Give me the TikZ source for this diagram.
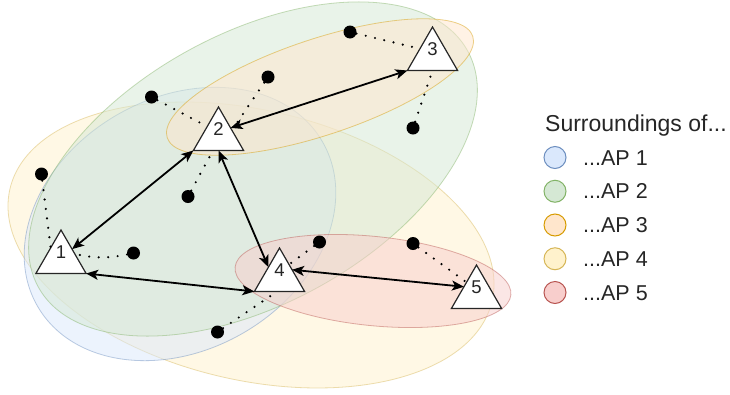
\documentclass[tikz,border=0pt]{standalone}
\usepackage{fontspec}
\setmainfont{Liberation Sans}
\usetikzlibrary{shapes.geometric,calc,arrows.meta}
\definecolor{bluef}{HTML}{DAE8FC}\definecolor{bluel}{HTML}{6C8EBF}
\definecolor{greenf}{HTML}{D5E8D4}\definecolor{greenl}{HTML}{82B366}
\definecolor{orangef}{HTML}{FFE6CC}\definecolor{orangel}{HTML}{D79B00}
\definecolor{yellowf}{HTML}{FFF2CC}\definecolor{yellowl}{HTML}{D6B656}
\definecolor{redf}{HTML}{F8CECC}\definecolor{redl}{HTML}{B85450}
\pgfdeclarelayer{bg}
\pgfsetlayers{bg,main}
\begin{document}
\begin{tikzpicture}[x=1pt,y=-1pt,
  zone/.style={fill opacity=0.5, draw opacity=0.45, line width=0.8pt},
  ap/.style={regular polygon, regular polygon sides=3, minimum size=58pt, inner sep=0pt, outer sep=0pt, draw=black!85, fill=white, line width=1.2pt},
  apnum/.style={font=\fontsize{18.5}{18}\selectfont, text=black!85, yshift=7pt, inner sep=0pt},
  dotnode/.style={circle, fill=black, minimum size=13pt, inner sep=0pt},
  dotline/.style={line width=2.4pt, dash pattern=on 0pt off 9.5pt, line cap=round},
  conn/.style={line width=1.8pt, <->, >={Stealth[length=12pt,width=10pt,inset=3pt]}},
  legc/.style={circle, minimum size=22pt, inner sep=0pt, line width=1pt},
  legt/.style={anchor=base west, inner sep=0pt, font=\fontsize{21.5}{24}\selectfont, text=black!85},
]
\useasboundingbox (0,0) rectangle (730,394);

% access points
\node[ap, label={[apnum]center:1}] (t1) at (61,259) {};
\node[ap, label={[apnum]center:2}] (t2) at (218.5,136) {};
\node[ap, label={[apnum]center:3}] (t3) at (432.5,56) {};
\node[ap, label={[apnum]center:4}] (t4) at (279.5,277) {};
\node[ap, label={[apnum]center:5}] (t5) at (476.5,294) {};

% surroundings
\begin{pgfonlayer}{bg}
\fill[white] (0,0) rectangle (730,394);
\draw[zone, fill=yellowf, draw=yellowl, rotate around={-13.1:(251,245)}] (251,245) ellipse [x radius=247.5pt, y radius=135pt];
\draw[zone, fill=bluef, draw=bluel, rotate around={30:(180,224)}] (180,224) ellipse [x radius=164.5pt, y radius=126pt];
\draw[zone, fill=greenf, draw=greenl, rotate around={28.8:(253,169)}] (253,169) ellipse [x radius=245pt, y radius=135pt];
\draw[zone, fill=orangef, draw=orangel, rotate around={18.4:(320,87)}] (320,87) ellipse [x radius=161pt, y radius=48pt];
\draw[zone, fill=redf, draw=redl, rotate around={-5.8:(373,281)}] (373,281) ellipse [x radius=138.6pt, y radius=44.6pt];
\end{pgfonlayer}

% stations
\node[dotnode] (d1) at (350,32) {};
\node[dotnode] (d2) at (413,128) {};
\node[dotnode] (d3) at (268,77) {};
\node[dotnode] (d4) at (151.5,97) {};
\node[dotnode] (d5) at (188,196.5) {};
\node[dotnode] (d6) at (41.5,174) {};
\node[dotnode] (d7) at (133.5,253) {};
\node[dotnode] (d8) at (319.5,242) {};
\node[dotnode] (d9) at (217.5,332) {};
\node[dotnode] (d10) at (413,243.5) {};

\draw[dotline] (d1) -- (t3.side 1);
\draw[dotline] (d2) -- (t3.side 2);
\draw[dotline] (d3) -- ($(t2.side 3)+(6,-6)$);
\draw[dotline] (d4) -- ($(t2.corner 1)!0.45!(t2.corner 2)$);
\draw[dotline] (d5) -- ($(t2.corner 2)!0.39!(t2.corner 3)$);
\draw[dotline] (d6) -- ($(t1.corner 1)!0.41!(t1.corner 2)$);
\draw[dotline] (d7) to[bend left=12] ($(t1.corner 1)!0.55!(t1.corner 3)$);
\draw[dotline] (d8) -- ($(t4.corner 1)!0.38!(t4.corner 3)$);
\draw[dotline] (d9) -- ($(t4.corner 2)!0.45!(t4.corner 3)$);
\draw[dotline] (d10) -- ($(t5.corner 1)!0.33!(t5.corner 2)+(-3,2)$);

% links
\draw[conn] ($(t1.corner 1)!0.44!(t1.corner 3)$) -- (t2.corner 2);
\draw[conn] ($(t2.corner 1)!0.48!(t2.corner 3)$) -- (t3.corner 2);
\draw[conn] (t2.side 2) -- ($(t4.corner 1)!0.44!(t4.corner 2)$);
\draw[conn] (t1.corner 3) -- (t4.corner 2);
\draw[conn] (t4.side 3) -- (t5.side 1);

% legend
\node[anchor=base west, inner sep=0pt, font=\fontsize{23}{27}\selectfont, text=black!85] (hd) at (545,131) {Surroundings of...};
\node[legc, fill=bluef, draw=bluel] (l1) at (555,157.5) {};
\node[legc, fill=greenf, draw=greenl] (l2) at (555,191.25) {};
\node[legc, fill=orangef, draw=orangel] (l3) at (555,225) {};
\node[legc, fill=yellowf, draw=yellowl] (l4) at (555,258.75) {};
\node[legc, fill=redf, draw=redl] (l5) at (555,292.5) {};
\node[legt] (lt1) at ($(l1)+(28,7.5)$) {...AP 1};
\node[legt] (lt2) at ($(l2)+(28,7.5)$) {...AP 2};
\node[legt] (lt3) at ($(l3)+(28,7.5)$) {...AP 3};
\node[legt] (lt4) at ($(l4)+(28,7.5)$) {...AP 4};
\node[legt] (lt5) at ($(l5)+(28,7.5)$) {...AP 5};
\end{tikzpicture}
\end{document}
